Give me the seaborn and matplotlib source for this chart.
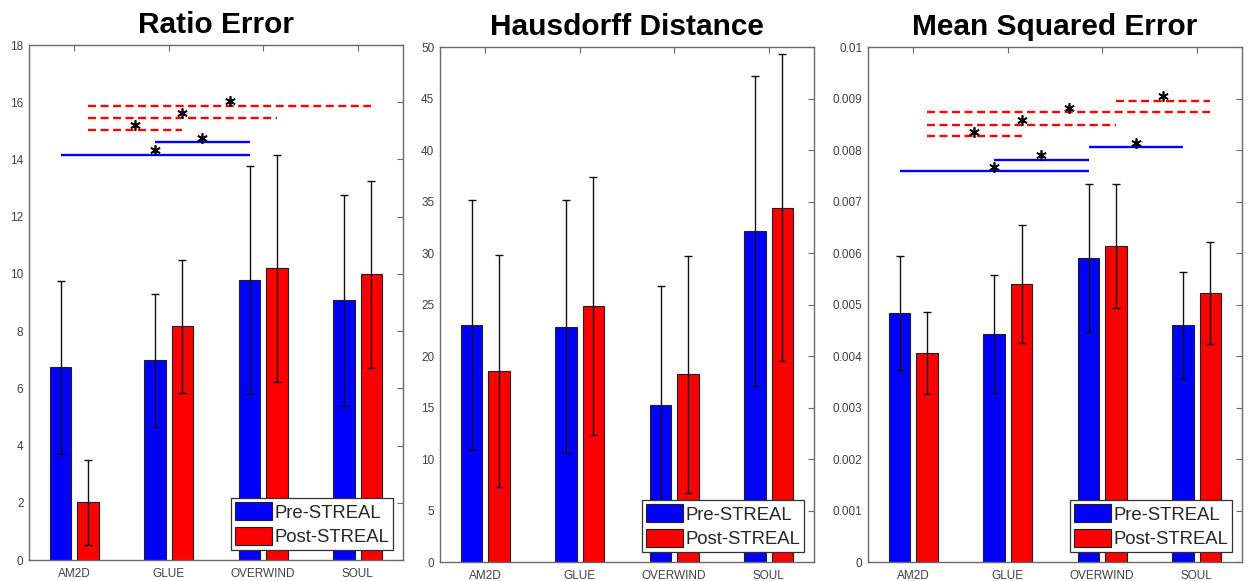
import numpy as np
import pandas as pd
import matplotlib
matplotlib.use("Agg")
import matplotlib.pyplot as plt
from matplotlib.ticker import FuncFormatter, MultipleLocator
import seaborn as sns

# ---- data -------------------------------------------------------------
categories = ["AM2D", "GLUE", "OVERWIND", "SOUL"]
conditions = ["Pre-STREAL", "Post-STREAL"]

ratio_pre = [6.73, 6.98, 9.79, 9.08]
ratio_post = [2.02, 8.17, 10.19, 9.99]
ratio_pre_sd = [3.02, 2.33, 3.98, 3.68]
ratio_post_sd = [1.48, 2.32, 3.98, 3.27]

hd_pre = [23.0, 22.86, 15.26, 32.12]
hd_post = [18.52, 24.86, 18.22, 34.38]
hd_pre_sd = [12.16, 12.29, 11.57, 15.05]
hd_post_sd = [11.28, 12.57, 11.48, 14.9]

mse_pre = [0.00483, 0.00443, 0.00590, 0.00460]
mse_post = [0.00406, 0.00540, 0.00614, 0.00522]
mse_pre_sd = [0.00111, 0.00114, 0.00144, 0.00104]
mse_post_sd = [0.00080, 0.00115, 0.00121, 0.00099]

# significant pairwise comparisons: (from, to, bracket height)
ratio_sig_pre_from = ["AM2D", "GLUE"]
ratio_sig_pre_to = ["OVERWIND", "OVERWIND"]
ratio_sig_pre_y = [14.17, 14.60]
ratio_sig_post_from = ["AM2D", "AM2D", "AM2D"]
ratio_sig_post_to = ["GLUE", "OVERWIND", "SOUL"]
ratio_sig_post_y = [15.04, 15.45, 15.88]

mse_sig_pre_from = ["AM2D", "GLUE", "OVERWIND"]
mse_sig_pre_to = ["OVERWIND", "OVERWIND", "SOUL"]
mse_sig_pre_y = [0.00759, 0.00781, 0.00805]
mse_sig_post_from = ["AM2D", "AM2D", "AM2D", "OVERWIND"]
mse_sig_post_to = ["GLUE", "OVERWIND", "SOUL", "SOUL"]
mse_sig_post_y = [0.00827, 0.00849, 0.00873, 0.00895]

# ---- style ------------------------------------------------------------
sns.set_style("white")
plt.rcParams["font.family"] = ["Liberation Sans", "DejaVu Sans"]

BLUE = "#0000ff"
RED = "#ff0000"
AXIS_GRAY = "#6a6a6a"
LABEL_GRAY = "#404040"

fig = plt.figure(figsize=(12.51, 5.81), dpi=100)
fig.patch.set_facecolor("white")

axes_rects = [
    [0.0232, 0.0361, 0.2989, 0.8864],
    [0.3517, 0.0327, 0.2990, 0.8863],
    [0.6939, 0.0327, 0.2989, 0.8863],
]


def draw_panel(ax, title, pre, post, pre_sd, post_sd, ymax, ystep, sig_pre, sig_post):
    df = pd.DataFrame({
        "category": categories * 2,
        "condition": [conditions[0]] * len(categories) + [conditions[1]] * len(categories),
        "value": list(pre) + list(post),
    })
    sns.barplot(
        data=df, x="category", y="value", hue="condition",
        order=categories, hue_order=conditions, palette=[BLUE, RED],
        saturation=1, width=0.58, gap=0.22, edgecolor="#202020", linewidth=0.8,
        errorbar=None, legend=False, ax=ax, zorder=2,
    )
    bar_sets = list(ax.containers[:2])
    centers = {
        cond: [p.get_x() + p.get_width() / 2 for p in cont]
        for cond, cont in zip(conditions, bar_sets)
    }

    for cond, vals, sds in ((conditions[0], pre, pre_sd), (conditions[1], post, post_sd)):
        ax.errorbar(centers[cond], vals, yerr=sds, fmt="none", ecolor="#111111",
                    elinewidth=1.0, capsize=3, capthick=1.0, zorder=3)

    # significance brackets with asterisks
    star_off = 0.009 * ymax
    for (froms, tos, ys), cond, color, ls in (
        (sig_pre, conditions[0], BLUE, "-"),
        (sig_post, conditions[1], RED, (0, (3.4, 1.9))),
    ):
        for a, b, y in zip(froms, tos, ys):
            x1 = centers[cond][categories.index(a)]
            x2 = centers[cond][categories.index(b)]
            ax.plot([x1, x2], [y, y], color=color, lw=1.7, ls=ls, zorder=4,
                    solid_capstyle="butt", dash_capstyle="butt")
            ax.plot([(x1 + x2) / 2], [y + star_off], marker=(6, 2, 0), ms=7.5,
                    mew=1.2, color="black", zorder=5, ls="none")

    ax.set_xlim(-0.48, 3.48)
    ax.set_ylim(0, ymax)
    ax.yaxis.set_major_locator(MultipleLocator(ystep))
    ax.yaxis.set_major_formatter(FuncFormatter(lambda v, _: "%g" % round(v, 6)))
    ax.set_xlabel("")
    ax.set_ylabel("")
    ax.tick_params(axis="both", direction="in", top=True, right=True, length=4,
                   width=0.8, color=AXIS_GRAY, labelcolor=LABEL_GRAY, labelsize=8.5)
    ax.tick_params(axis="x", pad=6)
    ax.tick_params(axis="y", pad=4)
    for sp in ax.spines.values():
        sp.set_visible(True)
        sp.set_color(AXIS_GRAY)
        sp.set_linewidth(1.0)

    ax.set_title(title, fontsize=21.5, fontweight="bold", pad=9, color="black")

    leg = ax.legend(bar_sets, conditions, loc="lower right", fontsize=13.3,
                    frameon=True, fancybox=False, framealpha=1, edgecolor="#303030",
                    borderpad=0.2, labelspacing=0.28, handlelength=2.0,
                    handleheight=1.15, handletextpad=0.12, borderaxespad=0.55)
    leg.get_frame().set_linewidth(0.9)
    leg.set_zorder(10)


ax1 = fig.add_axes(axes_rects[0])
draw_panel(ax1, "Ratio Error", ratio_pre, ratio_post, ratio_pre_sd, ratio_post_sd,
           18, 2,
           (ratio_sig_pre_from, ratio_sig_pre_to, ratio_sig_pre_y),
           (ratio_sig_post_from, ratio_sig_post_to, ratio_sig_post_y))

ax2 = fig.add_axes(axes_rects[1])
draw_panel(ax2, "Hausdorff Distance", hd_pre, hd_post, hd_pre_sd, hd_post_sd,
           50, 5, ([], [], []), ([], [], []))

ax3 = fig.add_axes(axes_rects[2])
draw_panel(ax3, "Mean Squared Error", mse_pre, mse_post, mse_pre_sd, mse_post_sd,
           0.01, 0.001,
           (mse_sig_pre_from, mse_sig_pre_to, mse_sig_pre_y),
           (mse_sig_post_from, mse_sig_post_to, mse_sig_post_y))

fig.savefig("out.png", dpi=100, facecolor="white")
